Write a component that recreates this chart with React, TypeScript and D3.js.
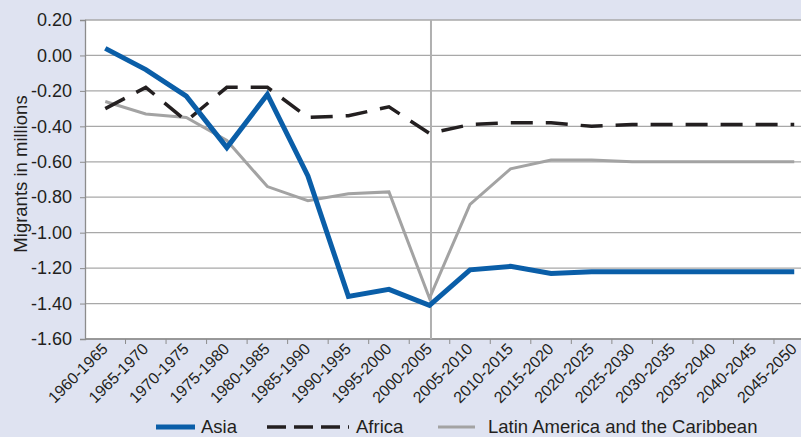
import React, { useEffect, useRef } from 'react';
import * as d3 from 'd3';

const periods = [
  '1960-1965', '1965-1970', '1970-1975', '1975-1980', '1980-1985', '1985-1990',
  '1990-1995', '1995-2000', '2000-2005', '2005-2010', '2010-2015', '2015-2020',
  '2020-2025', '2025-2030', '2030-2035', '2035-2040', '2040-2045', '2045-2050',
];

const asia = [0.04, -0.08, -0.23, -0.52, -0.22, -0.68, -1.36, -1.32, -1.41, -1.21, -1.19, -1.23, -1.22, -1.22, -1.22, -1.22, -1.22, -1.22];
const africa = [-0.30, -0.18, -0.37, -0.18, -0.18, -0.35, -0.34, -0.29, -0.44, -0.39, -0.38, -0.38, -0.40, -0.39, -0.39, -0.39, -0.39, -0.39];
const latinAmerica = [-0.26, -0.33, -0.35, -0.48, -0.74, -0.82, -0.78, -0.77, -1.37, -0.84, -0.64, -0.59, -0.59, -0.60, -0.60, -0.60, -0.60, -0.60];

const yTicks = [0.2, 0, -0.2, -0.4, -0.6, -0.8, -1.0, -1.2, -1.4, -1.6];
const dividerPeriod = '2000-2005';

const seriesList = [
  { name: 'Asia', values: asia, color: '#0a5ea8', width: 5, dash: '' },
  { name: 'Africa', values: africa, color: '#231f20', width: 3.5, dash: '22,13' },
  { name: 'Latin America and the Caribbean', values: latinAmerica, color: '#a3a3a3', width: 3, dash: '' },
];

const App: React.FC = () => {
  const svgRef = useRef<SVGSVGElement>(null);

  useEffect(() => {
    if (!svgRef.current) return;
    const width = 801;
    const height = 437;
    const left = 85;
    const right = 814.5;
    const top = 20;
    const bottom = 339;
    const font = 'Liberation Sans, Arial, sans-serif';

    const svg = d3.select(svgRef.current);
    svg.selectAll('*').remove();

    svg.append('rect').attr('width', width).attr('height', height).attr('fill', '#dfe3f1');
    svg.append('rect').attr('x', left).attr('y', top).attr('width', right - left).attr('height', bottom - top).attr('fill', '#ffffff');

    const x = d3.scaleBand().domain(periods).range([left, right]);
    const y = d3.scaleLinear().domain([-1.6, 0.2]).range([bottom, top]);
    const cx = (p: string) => (x(p) ?? 0) + x.bandwidth() / 2;

    // grid
    svg.append('g')
      .selectAll('line')
      .data(yTicks)
      .join('line')
      .attr('x1', left)
      .attr('x2', right)
      .attr('y1', d => y(d))
      .attr('y2', d => y(d))
      .attr('stroke', '#a8a8a8')
      .attr('stroke-width', 1.3);

    // y axis
    const yAxis = svg.append('g')
      .attr('transform', `translate(${left},0)`)
      .call(d3.axisLeft(y).tickValues(yTicks).tickSize(5).tickPadding(8).tickFormat(d3.format('.2f')));
    yAxis.select('.domain').attr('stroke', '#8c8c8c').attr('stroke-width', 1.3);
    yAxis.selectAll('.tick line').attr('stroke', '#8c8c8c');
    yAxis.selectAll('.tick text')
      .attr('font-family', font)
      .attr('font-size', 18)
      .attr('fill', '#231f20')
      .text(d => d3.format('.2f')(d as number).replace('−', '-'));

    // x axis with ticks between categories
    const xAxis = svg.append('g').attr('transform', `translate(0,${bottom})`);
    xAxis.append('line').attr('x1', left).attr('x2', right).attr('stroke', '#8c8c8c').attr('stroke-width', 1.3);
    xAxis.selectAll('line.tk')
      .data(periods)
      .join('line')
      .attr('class', 'tk')
      .attr('x1', d => (x(d) ?? 0) + x.bandwidth())
      .attr('x2', d => (x(d) ?? 0) + x.bandwidth())
      .attr('y1', 0)
      .attr('y2', 5)
      .attr('stroke', '#8c8c8c');
    xAxis.selectAll('text')
      .data(periods)
      .join('text')
      .attr('transform', d => `translate(${cx(d) + 3.5},11) rotate(-45)`)
      .attr('text-anchor', 'end')
      .attr('font-family', font)
      .attr('font-size', 16)
      .attr('fill', '#231f20')
      .text(d => d);

    // divider between estimates and projections
    svg.append('line')
      .attr('x1', cx(dividerPeriod) + 1.5)
      .attr('x2', cx(dividerPeriod) + 1.5)
      .attr('y1', top)
      .attr('y2', bottom)
      .attr('stroke', '#b0b0b0')
      .attr('stroke-width', 2);

    const line = d3.line<number>()
      .x((_, i) => cx(periods[i]))
      .y(d => y(d));

    seriesList.slice().reverse().forEach(s => {
      svg.append('path')
        .datum(s.values)
        .attr('fill', 'none')
        .attr('stroke', s.color)
        .attr('stroke-width', s.width)
        .attr('stroke-dasharray', s.dash || null)
        .attr('stroke-linejoin', 'miter')
        .attr('d', line);
    });

    // legend
    const legendY = 427;
    const legendItems = [
      { s: seriesList[0], x0: 156, x1: 195, tx: 201, dash: '' },
      { s: seriesList[1], x0: 267, x1: 349, tx: 356, dash: '19,8' },
      { s: seriesList[2], x0: 438, x1: 475, tx: 488, dash: '' },
    ];
    const legend = svg.append('g');
    legendItems.forEach(item => {
      legend.append('line')
        .attr('x1', item.x0)
        .attr('x2', item.x1)
        .attr('y1', legendY)
        .attr('y2', legendY)
        .attr('stroke', item.s.color)
        .attr('stroke-width', item.s.width)
        .attr('stroke-dasharray', item.dash || null);
      legend.append('text')
        .attr('x', item.tx)
        .attr('y', legendY + 6)
        .attr('font-family', font)
        .attr('font-size', 18.5)
        .attr('fill', '#231f20')
        .text(item.s.name);
    });

    // y title
    svg.append('text')
      .attr('transform', 'translate(27,174) rotate(-90)')
      .attr('text-anchor', 'middle')
      .attr('font-family', font)
      .attr('font-size', 18.5)
      .attr('fill', '#231f20')
      .text('Migrants in millions');
  }, []);

  return (
    <div style={{ position: 'absolute', left: 0, top: 0, width: 801, height: 437 }}>
      <svg ref={svgRef} width={801} height={437} style={{ display: 'block' }} />
    </div>
  );
};

export default App;
